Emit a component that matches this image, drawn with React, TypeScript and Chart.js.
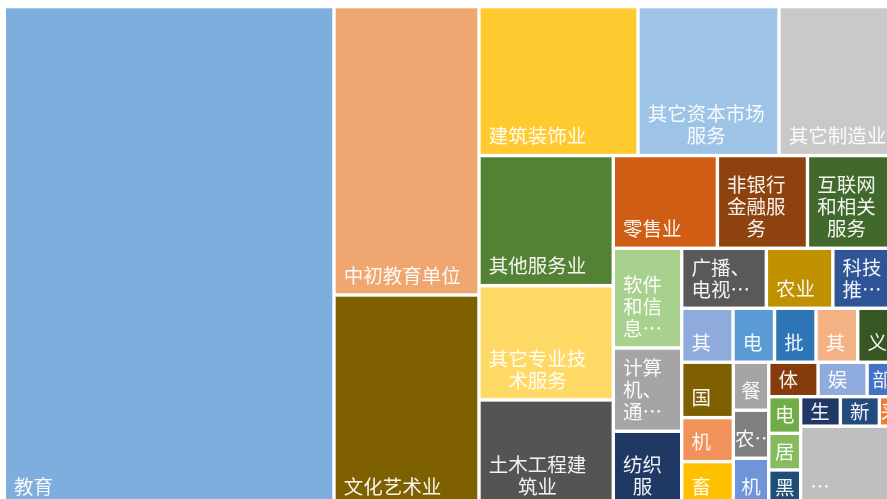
import React, { useEffect, useRef } from 'react';
import { Chart, registerables } from 'chart.js';

Chart.register(...registerables);

// Categories (labels as shown in the chart, truncated names keep their ellipsis)
const categories: string[] = [
  '教育', '中初教育单位', '文化艺术业',
  '建筑装饰业', '其它资本市场服务', '其它制造业',
  '其他服务业', '其它专业技术服务', '土木工程建筑业',
  '零售业', '非银行金融服务', '互联网和相关服务',
  '软件和信息…', '计算机、通…', '纺织服',
  '广播、电视…', '农业', '科技推…',
  '其', '电', '批', '其', '义',
  '国', '机', '畜',
  '餐', '农…', '机',
  '体', '娱', '部',
  '电', '居', '黑',
  '生', '新', '采',
  '…',
];

// Values (relative size of each industry)
const values: number[] = [
  16465, 4182, 3060,
  2369, 2101, 1758,
  1747, 1535, 1424,
  965, 835, 830,
  682, 570, 511,
  508, 399, 385,
  277, 224, 224, 225, 212,
  286, 227, 229,
  170, 170, 169,
  170, 169, 103,
  117, 117, 115,
  117, 115, 52,
  769,
];

const colors: string[] = [
  '#7DAEDD', '#F0A670', '#7F6000',
  '#FFCA30', '#9DC3E6', '#C9C9C9',
  '#548235', '#FFD966', '#545454',
  '#CF5E14', '#8E420E', '#41692B',
  '#A9D18E', '#A5A5A5', '#203864',
  '#595959', '#BF9000', '#2F5597',
  '#8FAADC', '#5B9BD5', '#2E75B6', '#F4B183', '#375623',
  '#7F6000', '#F0925A', '#FFC000',
  '#A5A5A5', '#7F7F7F', '#6F94D8',
  '#843C0C', '#8FAADC', '#4472C4',
  '#70AD47', '#86BC5F', '#1F4E79',
  '#1F3864', '#244B7E', '#ED7D31',
  '#BFBFBF',
];

// How many consecutive items share each strip of the treemap
const stripSizes: number[] = [1, 2, 3, 3, 3, 3, 3, 5, 3, 3, 3, 3, 3, 1];

// Treemap domain (data units) and the visible window of it
const TREE_W = 892.7;
const TREE_H = 546.8;
const X_MIN = -4.3;
const X_MAX = 882.7;
const Y_MIN = -7.23;
const Y_MAX = 539.18;

type Rect = { x: number; y: number; w: number; h: number };

function layoutTree(vals: number[], strips: number[], W: number, H: number): Rect[] {
  const total = vals.reduce((a, b) => a + b, 0);
  const scale = (W * H) / total;
  let x = 0, y = 0, w = W, h = H, i = 0;
  const rects: Rect[] = [];
  for (const n of strips) {
    const items = vals.slice(i, i + n).map((v) => v * scale);
    const s = items.reduce((a, b) => a + b, 0);
    if (w < h) {
      const th = s / w;
      let cx = x;
      items.forEach((a) => {
        const cw = a / th;
        rects.push({ x: cx, y, w: cw, h: th });
        cx += cw;
      });
      y += th;
      h -= th;
    } else {
      const tw = s / h;
      let cy = y;
      items.forEach((a) => {
        const chh = a / tw;
        rects.push({ x, y: cy, w: tw, h: chh });
        cy += chh;
      });
      x += tw;
      w -= tw;
    }
    i += n;
  }
  return rects;
}

const FONT_SIZE = 19.5;
const LINE_H = 22;

const treemapPlugin = {
  id: 'treemapCells',
  afterDatasetsDraw(chart: any) {
    const { ctx } = chart;
    const xs = chart.scales.x;
    const ys = chart.scales.y;
    const rects = layoutTree(values, stripSizes, TREE_W, TREE_H);
    const g = 1.7;
    ctx.save();
    rects.forEach((r, i) => {
      const x0 = xs.getPixelForValue(r.x);
      const x1 = xs.getPixelForValue(r.x + r.w);
      const y0 = ys.getPixelForValue(r.y);
      const y1 = ys.getPixelForValue(r.y + r.h);
      const L = x0 + g, T = y0 + g, R = x1 - g, B = y1 - g;
      const cw = R - L, ch = B - T;
      ctx.fillStyle = colors[i];
      ctx.fillRect(L, T, cw, ch);

      // label
      ctx.font = `${FONT_SIZE}px "Noto Sans CJK SC", sans-serif`;
      const maxW = cw - 16;
      const lines: string[] = [];
      let cur = '';
      for (const c of Array.from(categories[i])) {
        if (cur && ctx.measureText(cur + c).width > maxW) {
          lines.push(cur);
          cur = c;
        } else {
          cur += c;
        }
      }
      if (cur) {
        if (cur === '…' && lines.length) lines[lines.length - 1] += cur;
        else lines.push(cur);
      }
      const blockW = Math.max(...lines.map((l) => ctx.measureText(l).width));
      const blockH = lines.length * LINE_H;
      const padX = Math.max(0, Math.min(8, (cw - blockW) / 2));
      const cx = L + padX + blockW / 2;
      let lastCenter: number;
      if (ch - blockH >= 14) lastCenter = B - 7 - LINE_H / 2;
      else lastCenter = T + ch / 2 + ((lines.length - 1) * LINE_H) / 2;
      ctx.save();
      ctx.beginPath();
      ctx.rect(L, T, cw, ch);
      ctx.clip();
      ctx.fillStyle = 'rgba(255,255,255,0.93)';
      ctx.textAlign = 'center';
      ctx.textBaseline = 'middle';
      lines.forEach((ln, j) => {
        ctx.fillText(ln, cx, lastCenter - (lines.length - 1 - j) * LINE_H);
      });
      ctx.restore();
    });
    ctx.restore();
  },
};

export default function App() {
  const ref = useRef<HTMLCanvasElement | null>(null);
  useEffect(() => {
    if (!ref.current) return;
    const chart = new Chart(ref.current, {
      type: 'scatter',
      data: { datasets: [{ data: [] }] },
      options: {
        animation: false,
        responsive: false,
        maintainAspectRatio: false,
        devicePixelRatio: 1,
        layout: { padding: 0 },
        plugins: { legend: { display: false }, tooltip: { enabled: false } },
        scales: {
          x: { type: 'linear', display: false, min: X_MIN, max: X_MAX },
          y: { type: 'linear', display: false, reverse: true, min: Y_MIN, max: Y_MAX },
        },
      },
      plugins: [treemapPlugin],
    });
    return () => chart.destroy();
  }, []);
  return (
    <div style={{ position: 'fixed', left: 0, top: 0, width: 887, height: 499, background: '#fff' }}>
      <canvas ref={ref} width={887} height={499} style={{ display: 'block' }} />
    </div>
  );
}
